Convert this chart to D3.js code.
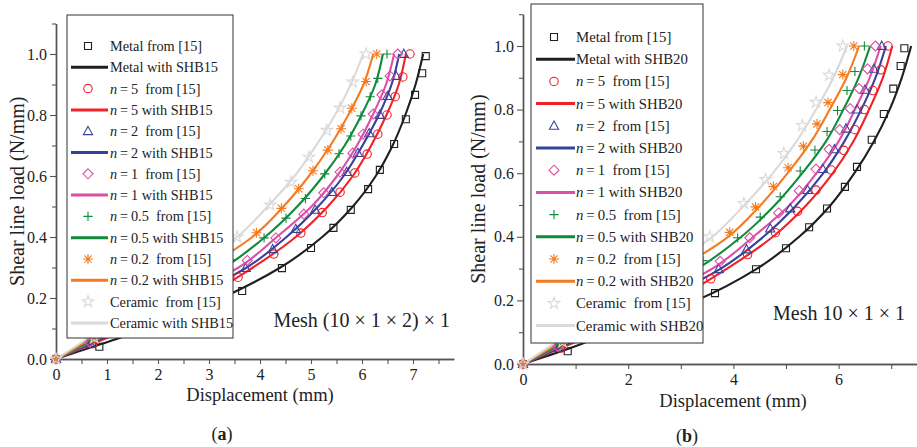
<!DOCTYPE html>
<html><head><meta charset="utf-8">
<script src="https://cdn.jsdelivr.net/npm/d3@7"></script>
<style>
body{margin:0;background:#fff}
svg{display:block}
text{font-family:"Liberation Serif","Times New Roman",serif;fill:#222}
</style>
</head><body>
<svg id="c" width="917" height="447"></svg>
<script>
// ---------- DATA ----------
const seriesNames = ["Metal", "n = 5", "n = 2", "n = 1", "n = 0.5", "n = 0.2", "Ceramic"];
const xTicksA = [0, 1, 2, 3, 4, 5, 6, 7];
const xTicksB = [0, 2, 4, 6];
const yTicks = [0, 0.2, 0.4, 0.6, 0.8, 1.0];

// reference data "from [15]" (displacement mm, load N/mm)
const metalRef = [[0,0],[0.85,0.04],[3.65,0.223],[4.43,0.298],[5.0,0.364],[5.44,0.43],[5.78,0.489],[6.12,0.557],[6.35,0.62],[6.63,0.705],[6.86,0.786],[7.04,0.866],[7.18,0.937],[7.25,0.993]];
const n5Ref = [[0,0],[0.72,0.05],[3.57,0.268],[4.27,0.344],[4.8,0.413],[5.22,0.48],[5.57,0.547],[5.86,0.61],[6.1,0.672],[6.31,0.737],[6.49,0.80],[6.65,0.86],[6.8,0.925],[6.94,1.0]];
const n2Ref = [[0,0],[0.68,0.05],[3.72,0.298],[4.25,0.36],[4.7,0.426],[5.08,0.489],[5.41,0.547],[5.7,0.613],[5.92,0.675],[6.14,0.74],[6.35,0.80],[6.5,0.862],[6.67,0.928],[6.82,1.0]];
const n1Ref = [[0,0],[0.66,0.055],[3.75,0.323],[4.31,0.397],[4.86,0.475],[5.25,0.545],[5.57,0.613],[5.82,0.675],[6.02,0.737],[6.22,0.803],[6.39,0.866],[6.55,0.928],[6.7,1.0]];
const n05Ref = [[0,0],[0.7,0.06],[3.42,0.325],[4.08,0.397],[4.51,0.462],[4.89,0.526],[5.27,0.607],[5.55,0.673],[5.78,0.731],[5.98,0.797],[6.16,0.86],[6.31,0.92],[6.49,1.0]];
const n02Ref = [[0,0],[0.76,0.065],[3.93,0.414],[4.42,0.494],[4.76,0.558],[5.04,0.617],[5.33,0.685],[5.59,0.755],[5.8,0.822],[6.08,0.91],[6.29,1.0]];
const ceramicRef = [[0,0],[0.75,0.07],[3.55,0.40],[4.2,0.505],[4.61,0.58],[4.96,0.662],[5.31,0.75],[5.57,0.823],[5.82,0.908],[6.08,1.0]];

// computed curves: displacement at these load levels
const loadLevels = [0, 0.05, 0.1, 0.2, 0.3, 0.4, 0.5, 0.6, 0.7, 0.8, 0.9, 1.0];
const metalSHB15   = [0, 0.9, 1.8, 3.25, 4.4, 5.22, 5.82, 6.27, 6.6, 6.85, 7.05, 7.2];
const n5SHB15      = [0, 0.72, 1.45, 2.85, 3.86, 4.7, 5.33, 5.82, 6.18, 6.48, 6.72, 6.86];
const n2SHB15      = [0, 0.68, 1.3, 2.6, 3.74, 4.52, 5.14, 5.64, 6.01, 6.33, 6.58, 6.73];
const n1SHB15      = [0, 0.62, 1.2, 2.4, 3.58, 4.33, 5.01, 5.51, 5.9, 6.21, 6.47, 6.63];
const n05SHB15     = [0, 0.58, 1.1, 2.2, 3.3, 4.1, 4.73, 5.24, 5.66, 5.99, 6.26, 6.41];
const n02SHB15     = [0, 0.52, 1.0, 2.0, 2.95, 3.85, 4.46, 4.96, 5.38, 5.73, 6.03, 6.22];
const ceramicSHB15 = [0, 0.46, 0.9, 1.8, 2.7, 3.55, 4.15, 4.68, 5.1, 5.47, 5.78, 6.02];

const metalSHB20   = [0, 0.9, 1.68, 3.3, 4.45, 5.25, 5.85, 6.3, 6.67, 6.97, 7.2, 7.38];
const n5SHB20      = [0, 0.72, 1.45, 2.85, 3.88, 4.75, 5.39, 5.89, 6.28, 6.58, 6.84, 7.02];
const n2SHB20      = [0, 0.68, 1.3, 2.6, 3.76, 4.57, 5.2, 5.71, 6.11, 6.43, 6.7, 6.9];
const n1SHB20      = [0, 0.62, 1.2, 2.4, 3.6, 4.38, 5.07, 5.58, 6.0, 6.31, 6.59, 6.8];
const n05SHB20     = [0, 0.58, 1.1, 2.2, 3.32, 4.15, 4.79, 5.31, 5.76, 6.09, 6.38, 6.6];
const n02SHB20     = [0, 0.52, 1.0, 2.0, 2.97, 3.9, 4.52, 5.03, 5.48, 5.83, 6.15, 6.39];
const ceramicSHB20 = [0, 0.46, 0.9, 1.8, 2.72, 3.6, 4.21, 4.75, 5.2, 5.57, 5.9, 6.16];

const refData = [metalRef, n5Ref, n2Ref, n1Ref, n05Ref, n02Ref, ceramicRef];
const shb15 = [metalSHB15, n5SHB15, n2SHB15, n1SHB15, n05SHB15, n02SHB15, ceramicSHB15];
const shb20 = [metalSHB20, n5SHB20, n2SHB20, n1SHB20, n05SHB20, n02SHB20, ceramicSHB20];

// ---------- STYLE ----------
const colors = ["#1f1f1f", "#ee2229", "#34429c", "#dc4fa6", "#118a3b", "#f47b20", "#dadada"];
const markers = ["square", "circle", "triangle", "diamond", "plus", "asterisk", "star"];

function markerPath(t) {
  switch (t) {
    case "square": return "M-3.5,-3.5H3.5V3.5H-3.5Z";
    case "circle": return "M4.2,0A4.2,4.2 0 1,1 -4.2,0A4.2,4.2 0 1,1 4.2,0Z";
    case "triangle": return "M0,-4.8L4.6,3.4L-4.6,3.4Z";
    case "diamond": return "M0,-5L5,0L0,5L-5,0Z";
    case "plus": return "M-4.6,0H4.6M0,-4.6V4.6";
    case "asterisk": return "M-5,0H5M0,-5V5M-3.6,-3.6L3.6,3.6M-3.6,3.6L3.6,-3.6";
    case "star": return d3.symbol(d3.symbolStar, 42)();
  }
}

const svg = d3.select("#c");

const panels = [
  { xDomain: [0, 7.8], xRange: [56, 453.8], yRange: [359, 23.5], xTicks: xTicksA, xMinor: d3.range(0.5, 7.8, 1),
    lines: shb15, suffix: "SHB15", mesh: "Mesh (10 × 1 × 2) × 1", meshX: 450, meshY: 327,
    legend: { x0: 67, x1: 233, y0: 15, y1: 338, row0: 46, step: 21.3, l0: 71, l1: 108, mx: 88, tx: 110, fs: 14.3 },
    yTitleX: 17, xTitleX: 260, xTitleY: 401, tag: "a", tagX: 222, tagY: 440 },
  { xDomain: [0, 7.5], xRange: [523, 917.5], yRange: [364, 14.2], xTicks: xTicksB, xMinor: [1, 3, 5, 7],
    lines: shb20, suffix: "SHB20", mesh: "Mesh 10 × 1 × 1", meshX: 905, meshY: 320,
    legend: { x0: 531, x1: 703, y0: 4, y1: 343, row0: 37, step: 22.2, l0: 536, l1: 575, mx: 554, tx: 576, fs: 14.8 },
    yTitleX: 478, xTitleX: 733, xTitleY: 407, tag: "b", tagX: 687, tagY: 442 }
];

panels.forEach(p => {
  const x = d3.scaleLinear().domain(p.xDomain).range(p.xRange);
  const y = d3.scaleLinear().domain([0, 1.1]).range(p.yRange);
  const g = svg.append("g");
  const axisColor = "#555";

  // x axis
  g.append("g").attr("transform", `translate(0,${p.yRange[0]})`)
    .call(d3.axisBottom(x).tickValues(p.xTicks).tickFormat(d3.format("d")).tickSize(5).tickPadding(5).tickSizeOuter(0));
  g.append("g").attr("transform", `translate(0,${p.yRange[0]})`)
    .call(d3.axisBottom(x).tickValues(p.xMinor).tickFormat("").tickSize(5).tickSizeOuter(0));
  // y axis
  g.append("g").attr("transform", `translate(${p.xRange[0]},0)`)
    .call(d3.axisLeft(y).tickValues(yTicks).tickFormat(d3.format(".1f")).tickSize(6).tickPadding(3).tickSizeOuter(0));
  g.append("g").attr("transform", `translate(${p.xRange[0]},0)`)
    .call(d3.axisLeft(y).tickValues([0.1, 0.3, 0.5, 0.7, 0.9, 1.1]).tickFormat("").tickSize(4).tickSizeOuter(0));
  g.selectAll(".domain").attr("stroke", axisColor).attr("stroke-width", 1.4);
  g.selectAll(".tick line").attr("stroke", axisColor).attr("stroke-width", 1.1);
  g.selectAll(".tick text").style("font-size", "16px").style("font-family", "'Liberation Serif',serif").attr("fill", "#333");

  // curves
  const lineGen = d3.line().x(d => x(d[0])).y(d => y(d[1])).curve(d3.curveMonotoneY);
  p.lines.forEach((xs, i) => {
    const pts = loadLevels.map((l, k) => [xs[k], l]);
    g.append("path").attr("d", lineGen(pts)).attr("fill", "none")
      .attr("stroke", colors[i]).attr("stroke-width", 2.1);
  });
  // reference markers
  refData.forEach((pts, i) => {
    g.append("g").selectAll("path").data(pts).join("path")
      .attr("transform", d => `translate(${x(d[0])},${y(d[1])})`)
      .attr("d", markerPath(markers[i]))
      .attr("fill", "none").attr("stroke", colors[i]).attr("stroke-width", 1.1);
  });

  // legend
  const L = p.legend;
  const lg = g.append("g");
  lg.append("rect").attr("x", L.x0).attr("y", L.y0).attr("width", L.x1 - L.x0).attr("height", L.y1 - L.y0)
    .attr("fill", "#fff").attr("stroke", "#333").attr("stroke-width", 1);
  seriesNames.forEach((name, i) => {
    const yr = L.row0 + L.step * (2 * i);
    const yl = L.row0 + L.step * (2 * i + 1);
    lg.append("path").attr("transform", `translate(${L.mx},${yr})`).attr("d", markerPath(markers[i]))
      .attr("fill", "none").attr("stroke", colors[i]).attr("stroke-width", 1.1);
    lg.append("line").attr("x1", L.l0).attr("x2", L.l1).attr("y1", yl).attr("y2", yl)
      .attr("stroke", colors[i]).attr("stroke-width", 3);
    const isN = name.startsWith("n");
    const t1 = lg.append("text").attr("x", L.tx).attr("y", yr + 5).style("font-size", L.fs + "px");
    const t2 = lg.append("text").attr("x", L.tx).attr("y", yl + 5).style("font-size", L.fs + "px");
    if (isN) {
      const val = name.split("=")[1].trim();
      [t1, t2].forEach(t => t.append("tspan").style("font-style", "italic").text("n"));
      t1.append("tspan").text("\u2009=\u2009" + val + "\u00a0 from [15]");
      t2.append("tspan").text("\u2009=\u2009" + val + " with " + p.suffix);
    } else {
      t1.text(name + (name === "Ceramic" ? "\u00a0 from [15]" : " from [15]"));
      t2.text(name + " with " + p.suffix);
    }
  });

  // texts
  g.append("text").attr("transform", `translate(${p.yTitleX},${(p.yRange[0] + p.yRange[1]) / 2}) rotate(-90)`)
    .attr("text-anchor", "middle").attr("dy", "0.35em").style("font-size", "20px").text("Shear line load (N/mm)");
  g.append("text").attr("x", p.xTitleX).attr("y", p.xTitleY).attr("text-anchor", "middle")
    .style("font-size", "18.5px").text("Displacement (mm)");
  g.append("text").attr("x", p.meshX).attr("y", p.meshY).attr("text-anchor", "end")
    .style("font-size", "20px").text(p.mesh);
  const tg = g.append("text").attr("x", p.tagX).attr("y", p.tagY).attr("text-anchor", "middle").style("font-size", "18px");
  tg.append("tspan").text("(");
  tg.append("tspan").style("font-weight", "bold").text(p.tag);
  tg.append("tspan").text(")");
});
</script>
</body></html>
